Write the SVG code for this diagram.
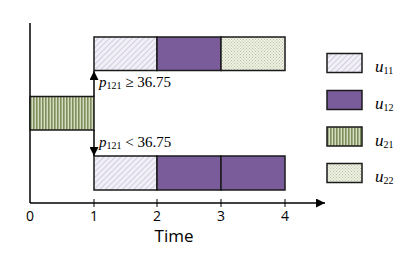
<svg xmlns="http://www.w3.org/2000/svg" width="415" height="259" viewBox="0 0 415 259">
<defs>
<pattern id="hatch" width="4" height="4" patternUnits="userSpaceOnUse" patternTransform="rotate(45)">
<rect width="4" height="4" fill="#f2f0f7"/>
<line x1="0" y1="0" x2="0" y2="4" stroke="#b3a9cc" stroke-width="1"/>
</pattern>
<pattern id="vstripe" width="3" height="4" patternUnits="userSpaceOnUse">
<rect width="3" height="4" fill="#d5dcc0"/>
<rect width="1.6" height="4" fill="#7e8f5c"/>
</pattern>
<pattern id="dots" width="3" height="3" patternUnits="userSpaceOnUse">
<rect width="3" height="3" fill="#eef1e4"/>
<rect width="1" height="1" fill="#b9c3a0"/>
<rect x="1.5" y="1.5" width="1" height="1" fill="#b9c3a0"/>
</pattern>
<marker id="ah" markerWidth="9" markerHeight="9" refX="9" refY="4.5" orient="auto" markerUnits="userSpaceOnUse">
<path d="M0,0 L9,4.5 L0,9 Z" fill="#000"/>
</marker>
</defs>
<style>
.b{stroke:#1a1a1a;stroke-width:1.5}
.u11{fill:url(#hatch)}
.u12{fill:#7b5c9b}
.u21{fill:url(#vstripe)}
.u22{fill:url(#dots)}
.tick{font-family:"Open Sans",sans-serif;font-size:14px;fill:#000;text-anchor:middle}
.lab{font-family:"Liberation Serif",serif;font-size:15px;fill:#000}
.it{font-style:italic}
.sub{font-size:10px}
</style>
<g id="axes" fill="none" stroke="#000" stroke-width="1.5">
<line x1="30" y1="23" x2="30" y2="203"/>
<line x1="30" y1="203" x2="325" y2="203" marker-end="url(#ah)"/>
<line x1="94" y1="199" x2="94" y2="207" stroke-width="1"/>
<line x1="157" y1="199" x2="157" y2="207" stroke-width="1"/>
<line x1="221" y1="199" x2="221" y2="207" stroke-width="1"/>
<line x1="285" y1="199" x2="285" y2="207" stroke-width="1"/>
</g>
<g id="ticklabels">
<text class="tick" x="30" y="221">0</text>
<text class="tick" x="94" y="221">1</text>
<text class="tick" x="157" y="221">2</text>
<text class="tick" x="221" y="221">3</text>
<text class="tick" x="285" y="221">4</text>
<text class="tick" x="174" y="242" style="font-size:17px">Time</text>
</g>
<g id="node-u21-start">
<rect class="b u21" x="30" y="96.5" width="64" height="33.5"/>
</g>
<g id="node-top-branch">
<rect class="b u11" x="94" y="37" width="63" height="33.5"/>
<rect class="b u12" x="157" y="37" width="64" height="33.5"/>
<rect class="b u22" x="221" y="37" width="64" height="33.5"/>
</g>
<g id="node-bottom-branch">
<rect class="b u11" x="94" y="156" width="63" height="34"/>
<rect class="b u12" x="157" y="156" width="64" height="34"/>
<rect class="b u12" x="221" y="156" width="64" height="34"/>
</g>
<g id="connectors" stroke="#000" stroke-width="1.5" fill="none">
<line x1="94" y1="96.5" x2="94" y2="71" marker-end="url(#ah)"/>
<line x1="94" y1="130" x2="94" y2="156" marker-end="url(#ah)"/>
</g>
<g id="branch-labels">
<text class="lab" x="99" y="87"><tspan class="it">p</tspan><tspan class="sub" dy="2">121</tspan><tspan dy="-2"> ≥ 36.75</tspan></text>
<text class="lab" x="99" y="147"><tspan class="it">p</tspan><tspan class="sub" dy="2">121</tspan><tspan dy="-2"> &lt; 36.75</tspan></text>
</g>
<g id="legend">
<g id="legend-u11"><rect class="b u11" x="327" y="53.5" width="35" height="19"/><text class="lab" x="375" y="72"><tspan class="it" font-size="17">u</tspan><tspan class="sub" dy="2">11</tspan></text></g>
<g id="legend-u12"><rect class="b u12" x="327" y="90.5" width="35" height="19"/><text class="lab" x="375" y="109"><tspan class="it" font-size="17">u</tspan><tspan class="sub" dy="2">12</tspan></text></g>
<g id="legend-u21"><rect class="b u21" x="327" y="127" width="35" height="19"/><text class="lab" x="375" y="146"><tspan class="it" font-size="17">u</tspan><tspan class="sub" dy="2">21</tspan></text></g>
<g id="legend-u22"><rect class="b u22" x="327" y="163.5" width="35" height="19"/><text class="lab" x="375" y="182"><tspan class="it" font-size="17">u</tspan><tspan class="sub" dy="2">22</tspan></text></g>
</g>
</svg>
